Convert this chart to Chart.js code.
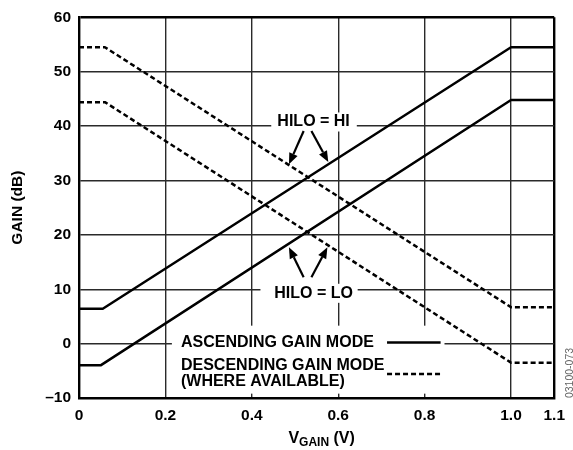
<!DOCTYPE html>
<html>
<head>
<meta charset="utf-8">
<script src="https://cdn.jsdelivr.net/npm/chart.js@4.4.0/dist/chart.umd.min.js"></script>
<style>
  html, body { margin: 0; padding: 0; background: #fff; }
  #wrap { width: 573px; height: 450px; }
</style>
</head>
<body>
<div id="wrap"><canvas id="c"></canvas></div>
<script>
// tick labels
const xTicks = [0, 0.2, 0.4, 0.6, 0.8, 1.0, 1.1];
const yTicks = [-10, 0, 10, 20, 30, 40, 50, 60];

// ascending gain mode (HILO = HI / HILO = LO)
const ascHiV    = [0, 0.055, 1.0, 1.1];
const ascHiGain = [6.4, 6.4, 54.5, 54.5];
const ascLoV    = [0, 0.05, 1.0, 1.1];
const ascLoGain = [-4, -4, 44.8, 44.8];

// descending gain mode (where available)
const descHiV    = [0, 0.06, 1.0, 1.1];
const descHiGain = [54.5, 54.5, 6.7, 6.7];
const descLoV    = [0, 0.06, 1.0, 1.1];
const descLoGain = [44.4, 44.4, -3.5, -3.5];

const FONT = "'Liberation Sans', Arial, Helvetica, sans-serif";

function pts(xs, ys) { return xs.map((x, i) => ({ x, y: ys[i] })); }

function line(data, dashed) {
  return {
    data,
    borderColor: '#000',
    borderWidth: 2.5,
    borderDash: dashed ? [5, 3] : [],
    pointRadius: 0,
    fill: false,
    tension: 0,
    borderJoinStyle: 'round'
  };
}

function arrow(ctx, x1, y1, x2, y2) {
  const a = Math.atan2(y2 - y1, x2 - x1);
  const hl = 11, hw = 4.5;
  const bx = x2 - hl * Math.cos(a), by = y2 - hl * Math.sin(a);
  ctx.beginPath();
  ctx.moveTo(x1, y1);
  ctx.lineTo(bx, by);
  ctx.stroke();
  ctx.beginPath();
  ctx.moveTo(x2, y2);
  ctx.lineTo(bx + hw * Math.sin(a), by - hw * Math.cos(a));
  ctx.lineTo(bx - hw * Math.sin(a), by + hw * Math.cos(a));
  ctx.closePath();
  ctx.fill();
}

const notes = {
  id: 'notes',
  beforeDatasetsDraw(chart) {
    const { ctx, scales: { x, y } } = chart;
    const px = v => x.getPixelForValue(v), py = v => y.getPixelForValue(v);
    ctx.save();
    ctx.fillStyle = '#fff';
    // white boxes that break the grid
    ctx.fillRect(px(0.445), py(42.5), px(0.643) - px(0.445), py(39) - py(42.5));
    ctx.fillRect(px(0.42), py(11), px(0.645) - px(0.42), py(7.5) - py(11));
    ctx.fillRect(px(0.215), py(3.3), px(0.846) - px(0.215), py(-9.2) - py(3.3));

    ctx.fillStyle = '#000';
    ctx.strokeStyle = '#000';
    ctx.lineWidth = 2.2;
    ctx.font = 'bold 16px ' + FONT;
    ctx.textBaseline = 'middle';
    ctx.textAlign = 'center';
    ctx.fillText('HILO = HI', px(0.543), py(40.8));
    ctx.fillText('HILO = LO', px(0.543), py(9.2));

    arrow(ctx, px(0.52), py(39.1), px(0.486), py(33.0));
    arrow(ctx, px(0.538), py(39.1), px(0.577), py(33.4));
    arrow(ctx, px(0.52), py(12.2), px(0.486), py(17.7));
    arrow(ctx, px(0.538), py(12.2), px(0.575), py(17.7));

    // legend
    ctx.textAlign = 'left';
    const lx = px(0.236);
    ctx.fillText('ASCENDING GAIN MODE', lx, py(0.1));
    ctx.fillText('DESCENDING GAIN MODE', lx, py(-4.1));
    ctx.fillText('(WHERE AVAILABLE)', lx, py(-6.9));
    ctx.lineWidth = 2.5;
    ctx.beginPath();
    ctx.moveTo(px(0.713), py(0.2));
    ctx.lineTo(px(0.837), py(0.2));
    ctx.stroke();
    ctx.setLineDash([5, 3]);
    ctx.beginPath();
    ctx.moveTo(px(0.713), py(-5.6));
    ctx.lineTo(px(0.837), py(-5.6));
    ctx.stroke();
    ctx.restore();
  },
  afterDraw(chart) {
    const { ctx, chartArea } = chart;
    ctx.save();
    // x axis title with subscript
    const cx = (chartArea.left + chartArea.right) / 2 + 5;
    const yb = 443;
    ctx.fillStyle = '#000';
    ctx.textBaseline = 'alphabetic';
    ctx.textAlign = 'left';
    const big = 'bold 16px ' + FONT, small = 'bold 12px ' + FONT;
    ctx.font = big; const w1 = ctx.measureText('V').width; const w3 = ctx.measureText(' (V)').width;
    ctx.font = small; const w2 = ctx.measureText('GAIN').width;
    let sx = cx - (w1 + w2 + w3) / 2;
    ctx.font = big; ctx.fillText('V', sx, yb);
    ctx.font = small; ctx.fillText('GAIN', sx + w1, yb + 3);
    ctx.font = big; ctx.fillText(' (V)', sx + w1 + w2, yb);

    // figure id at right edge
    ctx.translate(570.5, 373);
    ctx.rotate(-Math.PI / 2);
    ctx.font = '10.5px ' + FONT;
    ctx.fillStyle = '#666';
    ctx.textAlign = 'center';
    ctx.textBaseline = 'middle';
    ctx.fillText('03100-073', 0, 0);
    ctx.restore();
  }
};

const gridW = (edge) => c => (c.tick && c.tick.value === edge) ? 2.4 : 1.4;
const gridC = (edge) => c => (c.tick && c.tick.value === edge) ? '#000' : '#2a2a2a';

new Chart(document.getElementById('c'), {
  type: 'line',
  data: {
    datasets: [
      line(pts(ascHiV, ascHiGain), false),
      line(pts(ascLoV, ascLoGain), false),
      line(pts(descHiV, descHiGain), true),
      line(pts(descLoV, descLoGain), true)
    ]
  },
  options: {
    responsive: true,
    maintainAspectRatio: false,
    animation: false,
    layout: { padding: { top: 15, right: 16, left: 0, bottom: 0 } },
    plugins: { legend: { display: false }, tooltip: { enabled: false } },
    scales: {
      x: {
        type: 'linear',
        min: 0,
        max: 1.1,
        afterBuildTicks: s => { s.ticks = xTicks.map(v => ({ value: v })); },
        afterFit: s => { s.height = 52; },
        grid: { color: gridC(1.1), lineWidth: gridW(1.1), drawTicks: false },
        border: { color: '#000', width: 2.4 },
        ticks: {
          autoSkip: false,
          maxRotation: 0,
          padding: 8,
          color: '#000',
          font: { family: FONT, size: 15.5, weight: 'bold' },
          callback: v => v === 0 ? '0' : Number(v).toFixed(1)
        }
      },
      y: {
        min: -10,
        max: 60,
        afterBuildTicks: s => { s.ticks = yTicks.map(v => ({ value: v })); },
        afterFit: s => { s.width = 79; },
        grid: { color: gridC(60), lineWidth: gridW(60), drawTicks: false },
        border: { color: '#000', width: 2.4 },
        title: {
          display: true,
          text: 'GAIN (dB)',
          color: '#000',
          padding: { top: 8, bottom: 0 },
          font: { family: FONT, size: 15.5, weight: 'bold' }
        },
        ticks: {
          padding: 8,
          color: '#000',
          font: { family: FONT, size: 15.5, weight: 'bold' },
          callback: v => v < 0 ? '\u2013' + Math.abs(v) : String(v)
        }
      }
    }
  },
  plugins: [notes]
});
</script>
</body>
</html>
